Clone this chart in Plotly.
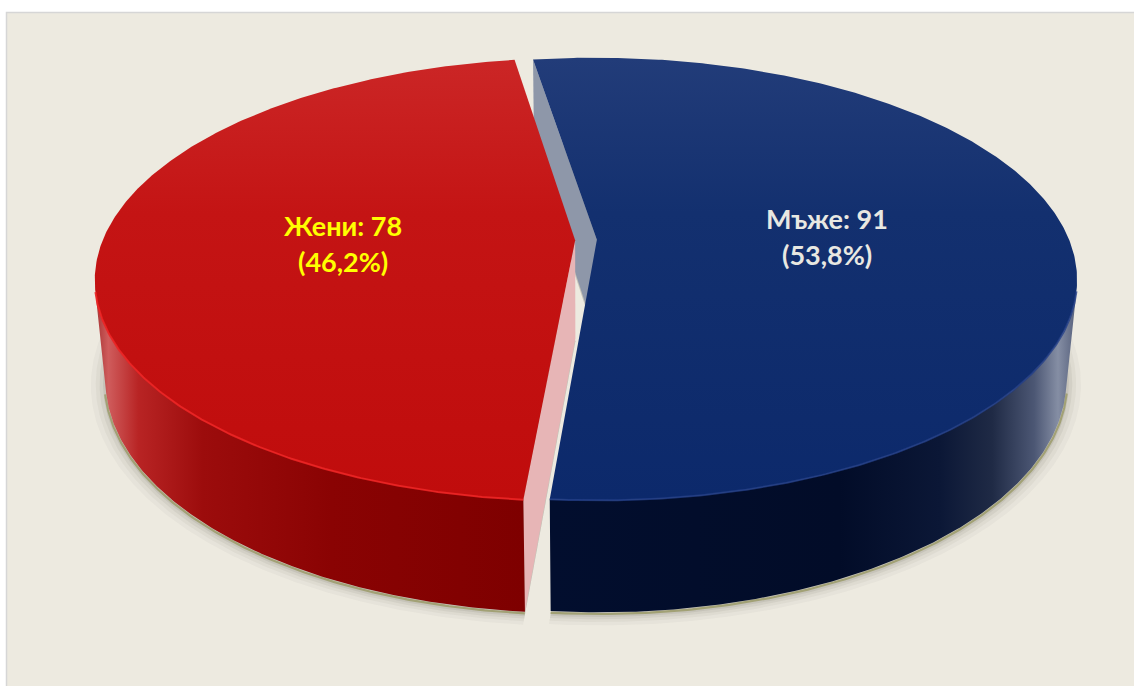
import numpy as np
import plotly.graph_objects as go

# ---- data ----
categories = ["Мъже", "Жени"]
counts = [91, 78]

# ---- styling per category ----
# vertical gradients run bottom (0) -> top (1) on screen
top_grad = {
    "Мъже": [[0.0, "#0C296B"], [0.65, "#13306F"], [1.0, "#223C79"]],
    "Жени": [[0.0, "#C00C0C"], [0.65, "#C41414"], [1.0, "#CB2626"]],
}
wall_grad = {
    "Мъже": [[0.0, "#020E2E"], [0.55, "#020C28"], [0.74, "#0B1736"],
             [0.84, "#1F2A45"], [0.92, "#4C5774"], [0.965, "#858EA4"],
             [1.0, "#56607C"]],
    "Жени": [[0.0, "#A83434"], [0.03, "#CF5C5C"], [0.10, "#B82424"],
             [0.25, "#9C0C0C"], [0.55, "#8A0303"], [1.0, "#7E0000"]],
}
cut_face = {"Мъже": "#8E97A9", "Жени": "#E7B5B6"}
rim_line = {"Мъже": "rgba(35,62,135,0.8)", "Жени": "rgba(236,36,36,0.9)"}
label_color = {"Мъже": "#E8E8E2", "Жени": "#FFFF00"}

# ---- view of the 3-D disc (perspective camera above the front) ----
W, H = 1134, 686
ELEV = np.radians(27.0)
DIST = 5.03
SCALE = 2376.0
CX, CY = 586.0, 240.0
THICK = 0.238
EXPLODE = 0.023
START_DEG = -8.9
LABEL_R = 0.49

se, ce = np.sin(ELEV), np.cos(ELEV)
cam_y, cam_z = DIST * se, DIST * ce


def project(x, y, z):
    x = np.asarray(x, float)
    dy = np.asarray(y, float) - cam_y
    dz = np.asarray(z, float) - cam_z
    depth = -dy * se - dz * ce
    up = dy * ce - dz * se
    return CX + SCALE * x / depth, CY - SCALE * up / depth


def rim(theta_deg, y, ox, oz, r=1.0):
    t = np.radians(theta_deg)
    return ox + r * np.sin(t), np.full_like(t, y, dtype=float), oz - r * np.cos(t)


def polygon(px, py, **kw):
    return go.Scatter(x=np.append(px, px[0]), y=np.append(py, py[0]), mode="lines",
                      fill="toself", line=dict(width=0), hoverinfo="skip",
                      showlegend=False, **kw)


total = float(sum(counts))
spans = [360.0 * v / total for v in counts]
starts = START_DEG + np.concatenate([[0.0], np.cumsum(spans)[:-1]])

slices = []
for name, v, a0, sp in zip(categories, counts, starts, spans):
    a1 = a0 + sp
    mid = np.radians(a0 + sp / 2)
    ox, oz = EXPLODE * np.sin(mid), -EXPLODE * np.cos(mid)
    slices.append(dict(name=name, value=v, a0=a0, a1=a1, mid=mid, ox=ox, oz=oz,
                       pct=100.0 * v / total))

shadow_layers, edge_traces, face_traces, wall_traces, top_traces, rim_traces = [], [], [], [], [], []
annotations = []

for s in slices:
    ox, oz = s["ox"], s["oz"]
    th = np.linspace(s["a0"], s["a1"], 400)

    # soft contact shadow under the disc
    for grow, alpha in [(0.030, 0.035), (0.020, 0.05), (0.012, 0.07), (0.005, 0.09)]:
        bx, by, bz = rim(th, -THICK, ox, oz, 1.0 + grow)
        px, py = project(np.append(bx, ox), np.append(by, -THICK), np.append(bz, oz))
        shadow_layers.append(polygon(px, py + 3, fillcolor=f"rgba(70,70,55,{alpha})"))

    # visible part of the outer wall (outward normal facing the camera)
    t = np.radians(th)
    facing = (-np.sin(t) * (ox + np.sin(t))
              - np.cos(t) * (cam_z - oz + np.cos(t))) > 0
    if facing.any():
        idx = np.where(facing)[0]
        seg = th[idx[0]: idx[-1] + 1]
        tx, ty, tz = rim(seg, 0.0, ox, oz)
        bx, by, bz = rim(seg[::-1], -THICK, ox, oz)
        px, py = project(np.concatenate([tx, bx]), np.concatenate([ty, by]),
                         np.concatenate([tz, bz]))
        wall_traces.append(polygon(px, py, fillgradient=dict(
            type="horizontal", colorscale=wall_grad[s["name"]])))
        ex, ey = project(*rim(seg, -THICK, ox, oz, 1.002))
        edge_traces.append(go.Scatter(x=ex, y=ey + 1, mode="lines",
                                      line=dict(color="rgba(150,150,95,0.75)", width=2.2),
                                      hoverinfo="skip", showlegend=False))
        rx, ry = project(*rim(seg, 0.0, ox, oz))
        rim_traces.append(go.Scatter(x=rx, y=ry, mode="lines",
                                     line=dict(color=rim_line[s["name"]], width=2),
                                     hoverinfo="skip", showlegend=False))

    # radial cut faces that turn towards the camera
    for ang, sign in [(s["a0"], -1.0), (s["a1"], 1.0)]:
        a = np.radians(ang)
        nx, nz = sign * np.cos(a), sign * np.sin(a)
        if nx * (0.0 - ox) + nz * (cam_z - oz) > 0:
            rx_, _, rz_ = rim(np.array([ang]), 0.0, ox, oz)
            xs = [ox, rx_[0], rx_[0], ox]
            ys = [0.0, 0.0, -THICK, -THICK]
            zs = [oz, rz_[0], rz_[0], oz]
            px, py = project(xs, ys, zs)
            face_traces.append(polygon(px, py, fillcolor=cut_face[s["name"]]))

    # top face of the slice
    tx, ty, tz = rim(th, 0.0, ox, oz)
    px, py = project(np.append(tx, ox), np.append(ty, 0.0), np.append(tz, oz))
    top_traces.append(polygon(px, py, fillgradient=dict(
        type="vertical", colorscale=top_grad[s["name"]])))

    # value label on the top face
    lx, ly = project(ox + LABEL_R * np.sin(s["mid"]), 0.0, oz - LABEL_R * np.cos(s["mid"]))
    pct_txt = f"{s['pct']:.1f}".replace(".", ",")
    for line_txt, shift in [(f"{s['name']}: {s['value']}", 18), (f"({pct_txt}%)", -18)]:
        annotations.append(dict(x=float(lx), y=float(ly), xref="x", yref="y",
                                text=f"<b>{line_txt}</b>", showarrow=False, yshift=shift,
                                font=dict(family="Lato, 'Noto Sans', sans-serif",
                                          size=27, color=label_color[s["name"]])))

fig = go.Figure(shadow_layers + edge_traces + face_traces + wall_traces + top_traces + rim_traces)

fig.update_layout(
    width=W, height=H,
    margin=dict(l=0, r=0, t=0, b=0),
    paper_bgcolor="#FFFFFF",
    plot_bgcolor="rgba(0,0,0,0)",
    xaxis=dict(range=[0, W], visible=False, fixedrange=True),
    yaxis=dict(range=[H, 0], visible=False, fixedrange=True),
    shapes=[dict(type="rect", xref="x", yref="y", x0=6.5, y0=12.5, x1=W + 2, y1=H + 2,
                 fillcolor="#EDEAE0", line=dict(color="#D6D6D6", width=1.5), layer="below")],
    annotations=annotations,
    showlegend=False,
)

fig.write_html("out.html")
